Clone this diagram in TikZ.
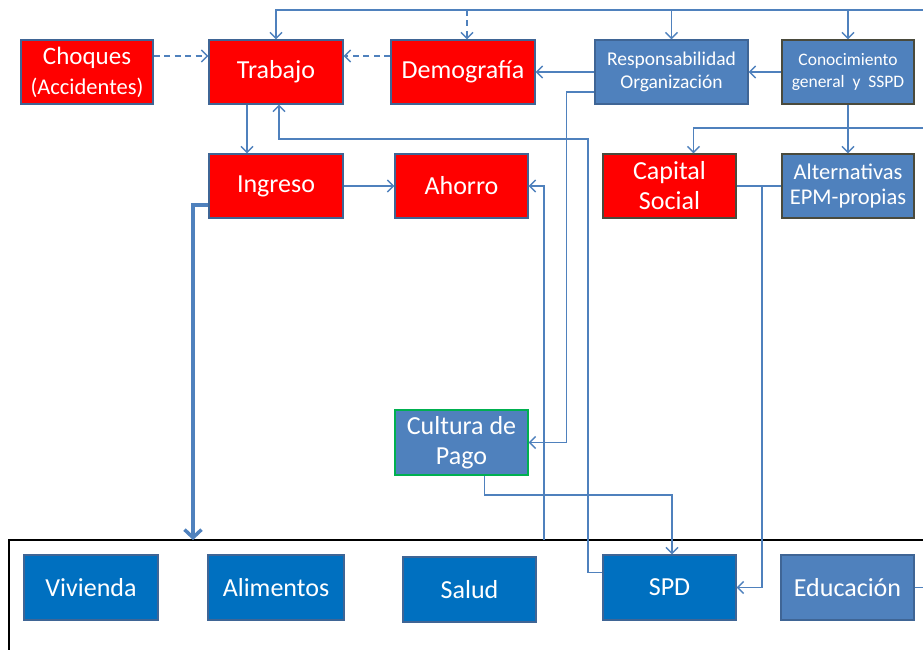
\documentclass[tikz,border=0pt]{standalone}
\usepackage{fontspec}
\setmainfont{Carlito}
\usetikzlibrary{arrows.meta}

\definecolor{rojo}{HTML}{FF0000}
\definecolor{azul}{HTML}{4F81BD}
\definecolor{azuloscuro}{HTML}{0070C0}
\definecolor{bordeazul}{HTML}{3F6595}
\definecolor{bordegris}{HTML}{4A4A3C}
\definecolor{verde}{HTML}{00B050}

\begin{document}
\begin{tikzpicture}[x=1pt,y=-1pt,
    caja/.style={rectangle,draw=bordeazul,line width=1.2pt,text=white,align=center,
      inner sep=0pt,minimum height=64pt,font=\fontsize{26}{30}\selectfont},
    roja/.style={caja,fill=rojo},
    celeste/.style={caja,fill=azul},
    servicio/.style={caja,fill=azuloscuro,minimum height=65pt},
    flecha/.style={draw=azul,line width=1.5pt,-{Straight Barb[length=6pt,width=12pt]}},
    linea/.style={draw=azul,line width=1.5pt},
    rayada/.style={dash pattern=on 6pt off 4.5pt},
  ]
  \useasboundingbox (0,0) rectangle (923,650);
  \clip (0,0) rectangle (923,650);

  % marco de las necesidades
  \draw[black,line width=1.8pt] (9,540) rectangle (940,680);

  % fila de arriba
  \node[roja,minimum width=132pt] (choques) at (87,72)
    {\fontsize{25}{25}\selectfont Choques\\\fontsize{22.5}{25}\selectfont(Accidentes)};
  \node[roja,minimum width=134pt] (trabajo) at (276,72) {Trabajo};
  \node[roja,minimum width=144pt] (demografia) at (463,72) {Demografía};
  \node[celeste,minimum width=153pt,font=\fontsize{19.5}{23}\selectfont] (respons) at (671.5,72)
    {Responsabilidad\\Organización};
  \node[celeste,draw=bordegris,minimum width=132pt,font=\fontsize{17.5}{22}\selectfont] (conoc) at (848,72)
    {Conocimiento\\general\ \ y\ \ SSPD};

  % segunda fila
  \node[roja,minimum width=134pt] (ingreso) at (276,186) {Ingreso};
  \node[roja,minimum width=133pt] (ahorro) at (461.5,186) {Ahorro};
  \node[roja,draw=bordegris,minimum width=133pt] (capital) at (669.5,186) {Capital\\Social};
  \node[celeste,draw=bordegris,minimum width=132pt,font=\fontsize{22.5}{25}\selectfont] (altern) at (848,186)
    {Alternativas\\EPM-propias};

  \node[celeste,draw=verde,minimum width=133pt,minimum height=65pt] (cultura) at (461.5,442.5)
    {Cultura de\\Pago};

  % necesidades
  \node[servicio,minimum width=134pt] (vivienda) at (91,587.5) {Vivienda};
  \node[servicio,minimum width=136pt] (alimentos) at (276,587.5) {Alimentos};
  \node[servicio,minimum width=133pt] (salud) at (469.5,589.5) {Salud};
  \node[servicio,minimum width=133pt] (spd) at (669.5,587.5) {SPD};
  \node[servicio,fill=azul,minimum width=133pt] (educacion) at (847.5,587.5) {Educación};

  \coordinate (bus) at (923,10);
  \coordinate (retorno) at (588,139);
  \coordinate (marco) at (544,540);
  \coordinate (cruce) at (672,495);
  \coordinate (union) at (762,186);
  \coordinate (lazo) at (923,128);

  % barra superior
  \draw[flecha] (bus) -| (trabajo.north);
  \draw[flecha,rayada] ([xshift=4pt]demografia.north |- bus) -- ([xshift=4pt]demografia.north);
  \draw[flecha] (respons.north |- bus) -- (respons.north);
  \draw[flecha] (conoc.north |- bus) -- (conoc.north);

  \draw[flecha,rayada] ([yshift=16pt]choques.east) -- ([yshift=16pt]trabajo.west);
  \draw[flecha,rayada] ([yshift=16pt]demografia.west) -- ([yshift=16pt]trabajo.east);
  \draw[flecha] (respons.west) -- (demografia.east);
  \draw[flecha] (conoc.west) -- (respons.east);
  \draw[flecha] ([xshift=-29pt]trabajo.south) -- ([xshift=-29pt]ingreso.north);
  \draw[flecha] (ingreso.east) -- (ahorro.west);

  \draw[flecha] ([yshift=15pt]spd.west) -| (retorno) -| ([xshift=3pt]trabajo.south);
  \draw[flecha] ([yshift=-20pt]respons.west) -| ([xshift=38pt]cultura.east) -- (cultura.east);
  \draw[flecha] (marco) |- (ahorro.east);
  \draw[flecha] ([xshift=23pt]cultura.south) |- (cruce) -- (cruce |- spd.north);

  \draw[linea] (capital.east) -- (altern.west);
  \draw[flecha] (union) |- (spd.east);
  \draw[flecha] (conoc.south) -- (altern.north);
  \draw[flecha] (lazo) -| ([xshift=24pt]capital.north);
  \draw[linea] (educacion.east) -- (educacion.east -| bus);

  % el ingreso va a las necesidades
  \draw[azul,line width=3.5pt,-{Straight Barb[length=8pt,width=17pt]}]
    ([yshift=-19pt]ingreso.west) -| (193,540);
\end{tikzpicture}
\end{document}
